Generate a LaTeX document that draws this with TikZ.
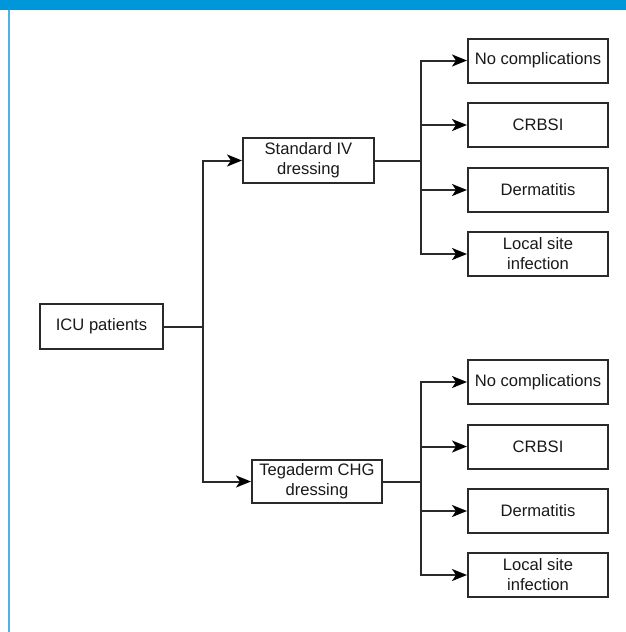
\documentclass[tikz,border=0pt]{standalone}
\usepackage{fontspec}
\setmainfont{Liberation Sans}
\usetikzlibrary{arrows.meta}
\definecolor{barBlue}{HTML}{0096DA}
\definecolor{edgeBlue}{HTML}{4BB3E6}
\definecolor{boxLine}{HTML}{2A2A2A}
\begin{document}
\begin{tikzpicture}[x=1pt, y=-1pt]
% Flow chart of the two dressing arms
\def\outx{538}
\providecommand{\flowLineWidth}{2pt}
\tikzset{
  flowbox/.style={draw=boxLine, line width=\flowLineWidth, align=center, inner sep=0pt,
    font=\fontsize{16.6}{20}\selectfont, text=black!90},
  outbox/.style={flowbox, minimum width=140pt, minimum height=44pt},
  flowline/.style={draw=boxLine, line width=\flowLineWidth},
  flowarrow/.style={flowline, -{Stealth[length=15pt, width=12pt, inset=4pt, color=black]}},
}
\useasboundingbox (0,0) rectangle (626,632);
% Page frame: top bar and left rule
\fill[barBlue] (0,0) rectangle (626,10);
\fill[edgeBlue] (8,10) rectangle (10,632);
% Boxes
\node[flowbox, minimum width=123pt, minimum height=45pt] (icu) at (101.5,326.5) {ICU patients};
\node[flowbox, minimum width=131pt, minimum height=45pt] (std) at (308.5,160.5) {Standard IV\\dressing};
\node[flowbox, minimum width=130pt, minimum height=43pt] (teg) at (317,481.5) {Tegaderm CHG\\dressing};
% Outcomes of the standard arm
\node[outbox] (stdA) at (\outx,60.5) {No complications};
\node[outbox] (stdB) at (\outx,125) {CRBSI};
\node[outbox] (stdC) at (\outx,190) {Dermatitis};
\node[outbox] (stdD) at (\outx,254) {Local site\\infection};
% Outcomes of the Tegaderm arm
\node[outbox] (tegA) at (\outx,382) {No complications};
\node[outbox] (tegB) at (\outx,446.5) {CRBSI};
\node[outbox] (tegC) at (\outx,511) {Dermatitis};
\node[outbox] (tegD) at (\outx,575) {Local site\\infection};
% Junctions
\coordinate (jicu) at (203,326.5);
\coordinate (jstd) at (421,160.5);
\coordinate (jteg) at (421,481.5);
% Connectors
\draw[flowline] (icu) -- (jicu);
\draw[flowarrow] (jicu) |- (std);
\draw[flowarrow] (jicu) |- (teg);
\draw[flowline] (std) -- (jstd);
\draw[flowline] (teg) -- (jteg);
\foreach \o in {stdA,stdB,stdC,stdD}
  \draw[flowarrow] (jstd) |- (\o);
\foreach \o in {tegA,tegB,tegC,tegD}
  \draw[flowarrow] (jteg) |- (\o);
\end{tikzpicture}
\end{document}
